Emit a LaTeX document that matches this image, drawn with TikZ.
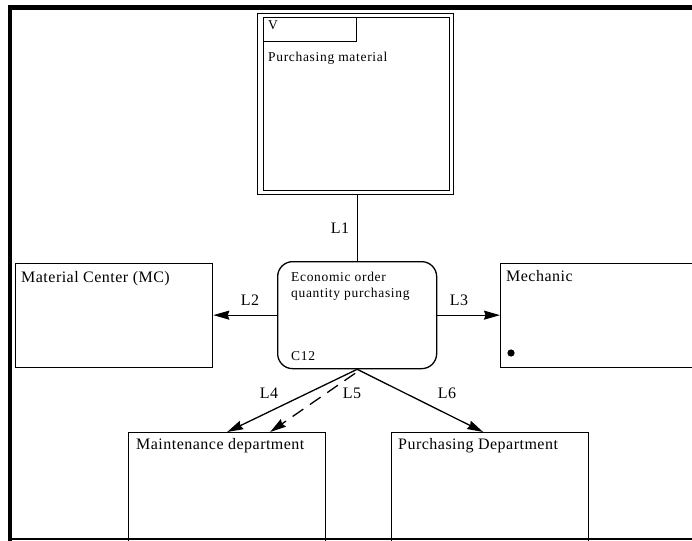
\documentclass[tikz,border=0pt]{standalone}
\usepackage{fontspec}
\setmainfont{Liberation Serif}
\newfontfamily\bigfont[LetterSpace=3]{Liberation Serif}
\newfontfamily\smallfont[LetterSpace=5]{Liberation Serif}
\usetikzlibrary{arrows.meta,calc}
\begin{document}
\begin{tikzpicture}[x=1pt,y=-1pt,
  box/.style={draw,line width=1.3pt,inner sep=0pt,anchor=north west},
  bigtxt/.style={inner sep=0pt,anchor=base west,font=\bigfont\fontsize{16}{19}\selectfont},
  smalltxt/.style={inner sep=0pt,anchor=base west,font=\smallfont\fontsize{13.5}{16}\selectfont},
  lbl/.style={inner sep=0pt,font=\bigfont\fontsize{16}{19}\selectfont},
  conn/.style={line width=1.3pt,-{Stealth[length=16pt,width=9pt,inset=1.5pt]}},
  frameline/.style={line width=4.5pt}]
\useasboundingbox (0,0) rectangle (692,540);
\clip (0,0) rectangle (692,540);

% outer frame
\coordinate (ftl) at (10,7.5);
\coordinate (ftr) at (700,7.5);
\coordinate (fbl) at (10,545);
\draw[frameline] (ftr) -- (ftl) -- (fbl);
\coordinate (bl) at (8,538.5);
\coordinate (br) at (700,538.5);
\draw[line width=2pt] (bl) -- (br);

% purchasing material (double border)
\node[box,minimum width=196pt,minimum height=180.5pt] (pm) at (257,13) {};
\node[box,minimum width=186pt,minimum height=173pt] (pmin) at (263,17) {};
\node[box,minimum width=93pt,minimum height=24pt] (vbox) at (263,17) {};
\node[smalltxt] (vtxt) at (268,30) {V};
\node[smalltxt] (pmtxt) at (268,62) {Purchasing material};

% central process
\node[box,rounded corners=15pt,minimum width=159pt,minimum height=107pt] (c12) at (277,261) {};
\node[smalltxt] (c12a) at (291,281) {Economic order};
\node[smalltxt] (c12b) at (291,297) {quantity purchasing};
\node[smalltxt] (c12id) at (291,360) {C12};

% side boxes
\node[box,minimum width=197pt,minimum height=104pt] (mc) at (15,263) {};
\node[bigtxt] (mctxt) at (21,282) {Material Center (MC)};
\node[box,minimum width=220pt,minimum height=104pt] (mech) at (500,263) {};
\node[bigtxt] (mechtxt) at (506,281) {Mechanic};
\fill (511,353) circle (3.6pt);

% bottom boxes
\node[box,minimum width=197pt,minimum height=110pt] (maint) at (128,432) {};
\node[bigtxt] (mainttxt) at (136,449) {Maintenance department};
\node[box,minimum width=197pt,minimum height=110pt] (pd) at (391,432) {};
\node[bigtxt] (pdtxt) at (398,449) {Purchasing Department};

% connectors
\draw[line width=1.3pt] (pm.south -| c12.north) -- (c12.north);
\node[lbl] (l1) at (340,228) {L1};
\draw[conn] (c12.west) -- (c12.west -| mc.east);
\node[lbl] (l2) at (250,300) {L2};
\draw[conn] (c12.east) -- (c12.east -| mech.west);
\node[lbl] (l3) at (459,300) {L3};
\draw[conn] (c12.south) -- (maint.north);
\node[lbl] (l4) at (269,393) {L4};
\draw[conn,dash pattern=on 13pt off 8pt] ($(c12.south)+(-2,4)$) -- ($(maint.north)+(43,0)$);
\node[lbl] (l5) at (352,393) {L5};
\draw[conn] (c12.south) -- ($(pd.north)+(-7,0)$);
\node[lbl] (l6) at (447,393) {L6};
\end{tikzpicture}
\end{document}
